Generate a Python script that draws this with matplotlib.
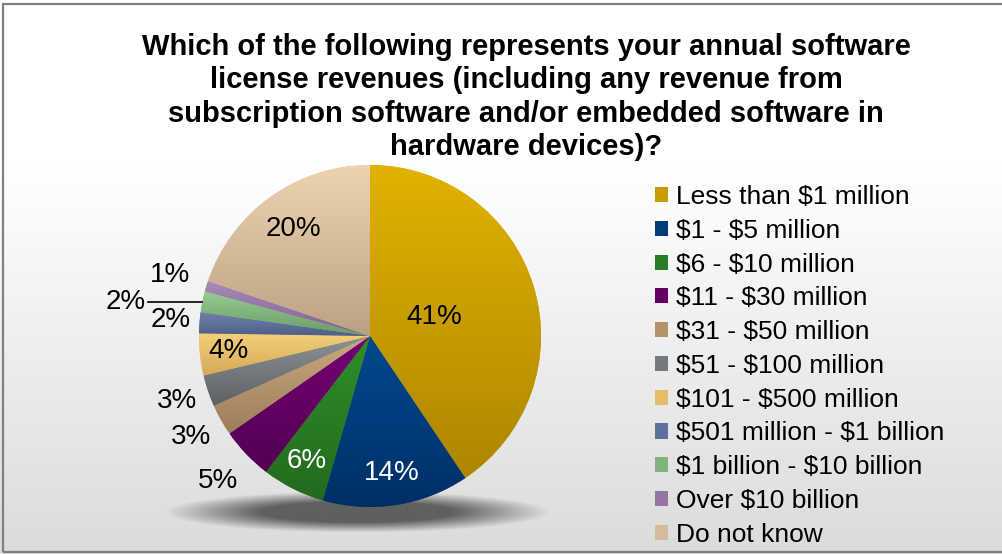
import matplotlib.pyplot as plt
import numpy as np
from matplotlib.patches import Rectangle
from matplotlib.colors import to_rgb

plt.rcParams['font.family'] = ['Liberation Sans', 'DejaVu Sans']
plt.rcParams['text.parse_math'] = False

# Data
categories = [
    'Less than $1 million',
    '$1 - $5 million',
    '$6 - $10 million',
    '$11 - $30 million',
    '$31 - $50 million',
    '$51 - $100 million',
    '$101 - $500 million',
    '$501 million - $1 billion',
    '$1 billion - $10 billion',
    'Over $10 billion',
    'Do not know',
]
shares = [41, 14, 6, 5, 3, 3, 4, 2, 2, 1, 20]
pct_labels = [str(v) + '%' for v in shares]

# gradient colours per slice (top -> bottom)
top_colors = ['#E2B200', '#004A8E', '#2F8F2A', '#760076', '#C9A97E', '#8E9296',
              '#F4CF7C', '#6F81AC', '#96CB91', '#A98AB8', '#EDD3B0']
bottom_colors = ['#AE8600', '#002F68', '#24691F', '#520052', '#9E7E5A', '#5C6166',
                 '#D4A957', '#4F5F87', '#6A9C68', '#7E6290', '#BBA283']
label_colors = ['black', 'white', 'white', 'black', 'black', 'black',
                'black', 'black', 'black', 'black', 'black']
# radial position of each label, in pie radii
label_radius = [0.39, 0.81, 0.82, 1.23, 1.20, 1.19, 0.83, 1.17, None, 1.22, 0.77]
leader_idx = 8

W, H = 1003, 554
fig = plt.figure(figsize=(W / 100, H / 100), dpi=100)

# background: white fading to light grey, grey frame
bg = fig.add_axes([0, 0, 1, 1], zorder=0)
t = np.linspace(0, 1, 256)[:, None]
shade = 1 - 0.14 * np.clip((t - 0.3) / 0.7, 0, 1)
bg.imshow(np.dstack([shade] * 3), extent=[0, 1, 0, 1], aspect='auto', origin='upper')
bg.add_patch(Rectangle((3.5 / W, 2.5 / H), 1.2, (H - 6) / H, fill=False,
                       edgecolor='#808080', linewidth=1.6))
bg.set_xlim(0, 1)
bg.set_ylim(0, 1)
bg.axis('off')

# pie axes
R_px = 171
cx, cy = 370, 336
half = 290
ax = fig.add_axes([(cx - half) / W, (H - cy - half) / H, 2 * half / W, 2 * half / H], zorder=1)
ax.set_facecolor('none')

mid_colors = [tuple((np.array(to_rgb(a)) + np.array(to_rgb(b))) / 2)
              for a, b in zip(top_colors, bottom_colors)]
wedges, _ = ax.pie(shares, startangle=90, counterclock=False, radius=1,
                   colors=mid_colors, wedgeprops=dict(linewidth=0))

# vertical gradient inside each slice
g = np.linspace(0, 1, 128)[:, None, None]
for w, c0, c1 in zip(wedges, top_colors, bottom_colors):
    ext = w.get_path().get_extents()
    img = (1 - g) * np.array(to_rgb(c0)) + g * np.array(to_rgb(c1))
    im = ax.imshow(img, extent=[ext.x0, ext.x1, ext.y0, ext.y1], origin='upper',
                   aspect='auto', zorder=2)
    im.set_clip_path(w)

# soft shadow under the pie
sx, sy, sa, sb = -0.076, -1.03, 1.13, 0.12
gx = np.linspace(-1, 1, 240)
gy = np.linspace(-1, 1, 48)
X, Y = np.meshgrid(gx, gy)
d = np.sqrt(X ** 2 + Y ** 2)
rgba = np.zeros((48, 240, 4))
rgba[..., :3] = 0.25
rgba[..., 3] = np.clip((1 - d) * 2.0, 0, 1) * 0.8
ax.imshow(rgba, extent=[sx - sa, sx + sa, sy - sb, sy + sb], zorder=1, aspect='auto')

# percentage labels
for i, (w, txt, col) in enumerate(zip(wedges, pct_labels, label_colors)):
    ang = np.deg2rad((w.theta1 + w.theta2) / 2)
    if i == leader_idx:
        px, py = np.cos(ang), np.sin(ang)
        ax.plot([px, px - 0.32], [py, py], color='black', linewidth=1.2, zorder=3)
        ax.text(px - 0.45, py, txt, ha='center', va='center', fontsize=20, color=col, zorder=4)
    else:
        r = label_radius[i]
        ax.text(r * np.cos(ang), r * np.sin(ang), txt, ha='center', va='center',
                fontsize=20, color=col, zorder=4)

ax.set_xlim(-half / R_px, half / R_px)
ax.set_ylim(-half / R_px, half / R_px)
ax.axis('off')

fig.text(526 / W, (H - 97) / H,
         'Which of the following represents your annual software\n'
         'license revenues (including any revenue from\n'
         'subscription software and/or embedded software in\n'
         'hardware devices)?',
         ha='center', va='center', fontsize=21, fontweight='bold', linespacing=1.24)

fig.legend(wedges, categories, loc='upper left', bbox_to_anchor=(655 / W, (H - 185) / H),
           frameon=False, fontsize=19, handlelength=0.5, handleheight=0.5,
           handletextpad=0.3, labelspacing=0.37, borderpad=0, borderaxespad=0)

fig.savefig('out.png', dpi=100)
